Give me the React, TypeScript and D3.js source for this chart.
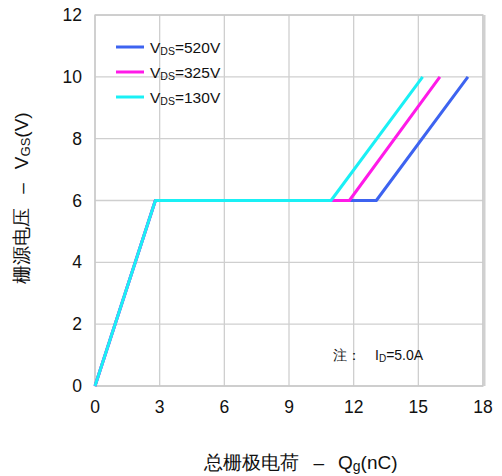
import React from "react";
import * as d3 from "d3";

const series = ["520", "325", "130"];
const colors = ["#3d63f0", "#ff1ae8", "#1af0f5"];
// gate charge (nC) vs VGS (V)
const qg520 = [0, 2.8, 13.05, 17.3];
const qg325 = [0, 2.8, 11.8, 16.0];
const qg130 = [0, 2.8, 10.95, 15.2];
const vgs = [0, 6, 6, 10];
const xTicks = [0, 3, 6, 9, 12, 15, 18];
const yTicks = [0, 2, 4, 6, 8, 10, 12];

const W = 502, H = 476;
const m = { left: 95, right: 19, top: 15, bottom: 90 };

export default function App() {
  const x = d3.scaleLinear().domain([0, 18]).range([m.left, W - m.right]);
  const y = d3.scaleLinear().domain([0, 12]).range([H - m.bottom, m.top]);
  const line = d3.line<number[]>().x(d => x(d[0])).y(d => y(d[1]));
  const data = [qg520, qg325, qg130];
  const font = "Liberation Sans, Arial, sans-serif";

  return (
    <svg width={W} height={H} style={{ position: "absolute", left: 0, top: 0 }} fontFamily={font}>
      {xTicks.map(t => (
        <line key={"gx" + t} x1={x(t)} x2={x(t)} y1={y(0)} y2={y(12)} stroke="#cfcfcf" strokeWidth={1.3} />
      ))}
      {yTicks.map(t => (
        <line key={"gy" + t} x1={x(0)} x2={x(18)} y1={y(t)} y2={y(t)} stroke="#cfcfcf" strokeWidth={1.3} />
      ))}
      <rect x={x(0)} y={y(12)} width={x(18) - x(0)} height={y(0) - y(12)} fill="none" stroke="#c8c8c8" strokeWidth={1.3} />
      <line x1={x(18) + 1.5} x2={x(18) + 1.5} y1={y(12)} y2={y(0)} stroke="#d0d0d0" strokeWidth={2} />
      {yTicks.map(t => (
        <text key={"ty" + t} x={x(0) - 13} y={y(t) + 6} textAnchor="end" fontSize={17.5} fill="#111">{t}</text>
      ))}
      {xTicks.map(t => (
        <text key={"tx" + t} x={x(t)} y={y(0) + 27} textAnchor="middle" fontSize={17.5} fill="#111">{t}</text>
      ))}
      {data.map((d, i) => (
        <path key={"s" + i} d={line(d.map((q, j) => [q, vgs[j]])) || ""} fill="none" stroke={colors[i]} strokeWidth={3} strokeLinejoin="round" />
      ))}
      {series.map((s, i) => (
        <g key={"lg" + i} transform={`translate(116, ${47 + i * 25})`}>
          <line x1={0} x2={28} y1={0} y2={0} stroke={colors[i]} strokeWidth={3} />
          <text x={34} y={6} fontSize={15.5} fill="#111">
            V<tspan fontSize={10.5} dy={2}>DS</tspan><tspan dy={-2}>={s}V</tspan>
          </text>
        </g>
      ))}
      <text x={333} y={360} fontSize={14} fill="#111">
        注：<tspan dx={14}>I</tspan><tspan fontSize={10} dy={2}>D</tspan><tspan dy={-2}>=5.0A</tspan>
      </text>
      <text x={301} y={469} textAnchor="middle" fontSize={19} fill="#111">
        总栅极电荷<tspan dx={14}>–</tspan><tspan dx={14}>Q</tspan><tspan fontSize={14} dy={2}>g</tspan><tspan dy={-2}>(nC)</tspan>
      </text>
      <text transform={`translate(28, 198) rotate(-90)`} textAnchor="middle" fontSize={19} fill="#111">
        栅源电压<tspan dx={14}>–</tspan><tspan dx={14}>V</tspan><tspan fontSize={13} dy={2}>GS</tspan><tspan dy={-2}>(V)</tspan>
      </text>
    </svg>
  );
}
